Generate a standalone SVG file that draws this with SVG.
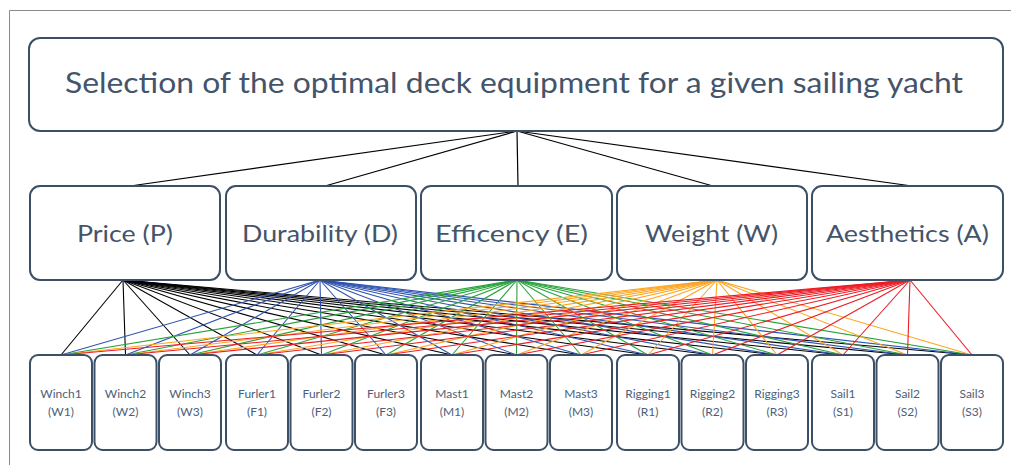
<svg xmlns="http://www.w3.org/2000/svg" width="1011" height="465" viewBox="0 0 1011 465">
<style>
.box{fill:#fff;stroke:#3b5066;stroke-width:2}
.t{font-family:Lato,"Open Sans","Liberation Sans",sans-serif;fill:#44546a;text-anchor:middle}
.title{font-size:29px}
.crit{font-size:24px}
.alt{font-size:12px;fill:#4d6079}
.top{stroke:#000;stroke-width:1.2}
.P{stroke:#000;stroke-width:1.1}
.D{stroke:#2f52b0;stroke-width:1.1}
.E{stroke:#29a33a;stroke-width:1.1}
.W{stroke:#ffa41f;stroke-width:1.1}
.A{stroke:#ec1c24;stroke-width:1.1}
</style>
<rect width="1011" height="465" fill="#fff"/>
<path d="M9.5 465 V10.5 H1011" fill="none" stroke="#8a8a8a" stroke-width="1"/>
<g id="connectors">
<g class="top">
<line x1="517" y1="131" x2="130" y2="186"/>
<line x1="517" y1="131" x2="325" y2="186"/>
<line x1="517" y1="131" x2="518" y2="186"/>
<line x1="517" y1="131" x2="713" y2="186"/>
<line x1="517" y1="131" x2="912" y2="186"/>
</g>
<g class="P">
<line x1="123" y1="280" x2="61" y2="355"/><line x1="123" y1="280" x2="125.5" y2="355"/><line x1="123" y1="280" x2="190" y2="355"/>
<line x1="123" y1="280" x2="257" y2="355"/><line x1="123" y1="280" x2="321.5" y2="355"/><line x1="123" y1="280" x2="386" y2="355"/>
<line x1="123" y1="280" x2="452" y2="355"/><line x1="123" y1="280" x2="516.5" y2="355"/><line x1="123" y1="280" x2="581" y2="355"/>
<line x1="123" y1="280" x2="648" y2="355"/><line x1="123" y1="280" x2="712.5" y2="355"/><line x1="123" y1="280" x2="777" y2="355"/>
<line x1="123" y1="280" x2="843" y2="355"/><line x1="123" y1="280" x2="907.5" y2="355"/><line x1="123" y1="280" x2="972" y2="355"/>
</g>
<g class="D">
<line x1="320" y1="280" x2="61" y2="355"/><line x1="320" y1="280" x2="125.5" y2="355"/><line x1="320" y1="280" x2="190" y2="355"/>
<line x1="320" y1="280" x2="257" y2="355"/><line x1="320" y1="280" x2="321.5" y2="355"/><line x1="320" y1="280" x2="386" y2="355"/>
<line x1="320" y1="280" x2="452" y2="355"/><line x1="320" y1="280" x2="516.5" y2="355"/><line x1="320" y1="280" x2="581" y2="355"/>
<line x1="320" y1="280" x2="648" y2="355"/><line x1="320" y1="280" x2="712.5" y2="355"/><line x1="320" y1="280" x2="777" y2="355"/>
<line x1="320" y1="280" x2="843" y2="355"/><line x1="320" y1="280" x2="907.5" y2="355"/><line x1="320" y1="280" x2="972" y2="355"/>
</g>
<g class="E">
<line x1="517" y1="280" x2="61" y2="355"/><line x1="517" y1="280" x2="125.5" y2="355"/><line x1="517" y1="280" x2="190" y2="355"/>
<line x1="517" y1="280" x2="257" y2="355"/><line x1="517" y1="280" x2="321.5" y2="355"/><line x1="517" y1="280" x2="386" y2="355"/>
<line x1="517" y1="280" x2="452" y2="355"/><line x1="517" y1="280" x2="516.5" y2="355"/><line x1="517" y1="280" x2="581" y2="355"/>
<line x1="517" y1="280" x2="648" y2="355"/><line x1="517" y1="280" x2="712.5" y2="355"/><line x1="517" y1="280" x2="777" y2="355"/>
<line x1="517" y1="280" x2="843" y2="355"/><line x1="517" y1="280" x2="907.5" y2="355"/><line x1="517" y1="280" x2="972" y2="355"/>
</g>
<g class="W">
<line x1="717" y1="280" x2="61" y2="355"/><line x1="717" y1="280" x2="125.5" y2="355"/><line x1="717" y1="280" x2="190" y2="355"/>
<line x1="717" y1="280" x2="257" y2="355"/><line x1="717" y1="280" x2="321.5" y2="355"/><line x1="717" y1="280" x2="386" y2="355"/>
<line x1="717" y1="280" x2="452" y2="355"/><line x1="717" y1="280" x2="516.5" y2="355"/><line x1="717" y1="280" x2="581" y2="355"/>
<line x1="717" y1="280" x2="648" y2="355"/><line x1="717" y1="280" x2="712.5" y2="355"/><line x1="717" y1="280" x2="777" y2="355"/>
<line x1="717" y1="280" x2="843" y2="355"/><line x1="717" y1="280" x2="907.5" y2="355"/><line x1="717" y1="280" x2="972" y2="355"/>
</g>
<g class="A">
<line x1="910" y1="280" x2="61" y2="355"/><line x1="910" y1="280" x2="125.5" y2="355"/><line x1="910" y1="280" x2="190" y2="355"/>
<line x1="910" y1="280" x2="257" y2="355"/><line x1="910" y1="280" x2="321.5" y2="355"/><line x1="910" y1="280" x2="386" y2="355"/>
<line x1="910" y1="280" x2="452" y2="355"/><line x1="910" y1="280" x2="516.5" y2="355"/><line x1="910" y1="280" x2="581" y2="355"/>
<line x1="910" y1="280" x2="648" y2="355"/><line x1="910" y1="280" x2="712.5" y2="355"/><line x1="910" y1="280" x2="777" y2="355"/>
<line x1="910" y1="280" x2="843" y2="355"/><line x1="910" y1="280" x2="907.5" y2="355"/><line x1="910" y1="280" x2="972" y2="355"/>
</g>
</g>
<g id="goal"><rect class="box" x="29" y="38" width="974" height="93" rx="11"/><text class="t title" x="514" y="93" textLength="898" lengthAdjust="spacingAndGlyphs">Selection of the optimal deck equipment for a given sailing yacht</text></g>
<g id="price"><rect class="box" x="30" y="186" width="190" height="94" rx="10"/><text class="t crit" x="125" y="242" textLength="96" lengthAdjust="spacingAndGlyphs">Price (P)</text></g>
<g id="durability"><rect class="box" x="226" y="186" width="190" height="94" rx="10"/><text class="t crit" x="320" y="242" textLength="156" lengthAdjust="spacingAndGlyphs">Durability (D)</text></g>
<g id="efficiency"><rect class="box" x="421" y="186" width="191" height="94" rx="10"/><text class="t crit" x="511.5" y="242" textLength="153" lengthAdjust="spacingAndGlyphs">Efficency (E)</text></g>
<g id="weight"><rect class="box" x="617" y="186" width="190" height="94" rx="10"/><text class="t crit" x="711.5" y="242" textLength="133" lengthAdjust="spacingAndGlyphs">Weight (W)</text></g>
<g id="aesthetics"><rect class="box" x="812" y="186" width="191" height="94" rx="10"/><text class="t crit" x="907.5" y="242" textLength="163" lengthAdjust="spacingAndGlyphs">Aesthetics (A)</text></g>
<g id="W1"><rect class="box" x="30" y="355" width="62" height="95" rx="8"/><text class="t alt" x="61" y="398">Winch1</text><text class="t alt" x="61" y="416">(W1)</text></g>
<g id="W2"><rect class="box" x="94.5" y="355" width="62" height="95" rx="8"/><text class="t alt" x="125.5" y="398">Winch2</text><text class="t alt" x="125.5" y="416">(W2)</text></g>
<g id="W3"><rect class="box" x="159" y="355" width="62" height="95" rx="8"/><text class="t alt" x="190" y="398">Winch3</text><text class="t alt" x="190" y="416">(W3)</text></g>
<g id="F1"><rect class="box" x="226" y="355" width="62" height="95" rx="8"/><text class="t alt" x="257" y="398">Furler1</text><text class="t alt" x="257" y="416">(F1)</text></g>
<g id="F2"><rect class="box" x="290.5" y="355" width="62" height="95" rx="8"/><text class="t alt" x="321.5" y="398">Furler2</text><text class="t alt" x="321.5" y="416">(F2)</text></g>
<g id="F3"><rect class="box" x="355" y="355" width="62" height="95" rx="8"/><text class="t alt" x="386" y="398">Furler3</text><text class="t alt" x="386" y="416">(F3)</text></g>
<g id="M1"><rect class="box" x="421" y="355" width="62" height="95" rx="8"/><text class="t alt" x="452" y="398">Mast1</text><text class="t alt" x="452" y="416">(M1)</text></g>
<g id="M2"><rect class="box" x="485.5" y="355" width="62" height="95" rx="8"/><text class="t alt" x="516.5" y="398">Mast2</text><text class="t alt" x="516.5" y="416">(M2)</text></g>
<g id="M3"><rect class="box" x="550" y="355" width="62" height="95" rx="8"/><text class="t alt" x="581" y="398">Mast3</text><text class="t alt" x="581" y="416">(M3)</text></g>
<g id="R1"><rect class="box" x="617" y="355" width="62" height="95" rx="8"/><text class="t alt" x="648" y="398">Rigging1</text><text class="t alt" x="648" y="416">(R1)</text></g>
<g id="R2"><rect class="box" x="681.5" y="355" width="62" height="95" rx="8"/><text class="t alt" x="712.5" y="398">Rigging2</text><text class="t alt" x="712.5" y="416">(R2)</text></g>
<g id="R3"><rect class="box" x="746" y="355" width="62" height="95" rx="8"/><text class="t alt" x="777" y="398">Rigging3</text><text class="t alt" x="777" y="416">(R3)</text></g>
<g id="S1"><rect class="box" x="812" y="355" width="62" height="95" rx="8"/><text class="t alt" x="843" y="398">Sail1</text><text class="t alt" x="843" y="416">(S1)</text></g>
<g id="S2"><rect class="box" x="876.5" y="355" width="62" height="95" rx="8"/><text class="t alt" x="907.5" y="398">Sail2</text><text class="t alt" x="907.5" y="416">(S2)</text></g>
<g id="S3"><rect class="box" x="941" y="355" width="62" height="95" rx="8"/><text class="t alt" x="972" y="398">Sail3</text><text class="t alt" x="972" y="416">(S3)</text></g>
</svg>
